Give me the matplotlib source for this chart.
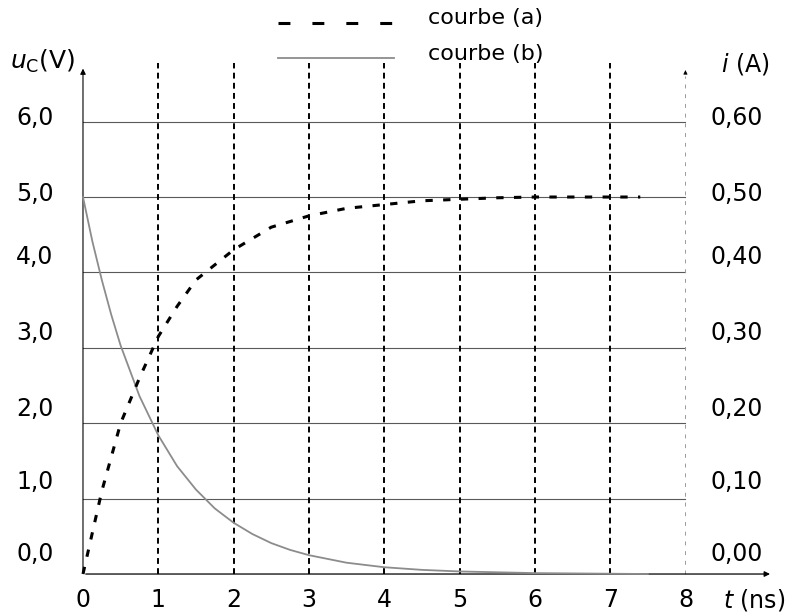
import matplotlib
matplotlib.use("Agg")
import matplotlib.pyplot as plt

plt.rcParams['font.family'] = ['DejaVu Sans']
plt.rcParams['mathtext.fontset'] = 'dejavusans'

# data
t_a = [0, 0.25, 0.5, 0.75, 1.0, 1.25, 1.5, 2.0, 2.5, 3.0, 3.5, 4.0, 4.5, 5.0, 5.5, 6.0, 7.4]
u_a = [0.0, 1.1, 2.0, 2.6, 3.15, 3.55, 3.9, 4.3, 4.6, 4.75, 4.85, 4.9, 4.95, 4.97, 4.99, 5.0, 5.0]
t_b = [0, 0.125, 0.25, 0.375, 0.5, 0.75, 1.0, 1.25, 1.5, 1.75, 2.0, 2.25, 2.5, 2.75, 3.0, 3.5, 4.0, 4.5, 5.0, 6.0, 7.5]
u_b = [5.0, 4.41, 3.9, 3.44, 3.03, 2.36, 1.84, 1.43, 1.12, 0.87, 0.68, 0.53, 0.41, 0.32, 0.25, 0.15, 0.09, 0.055, 0.034, 0.012, 0.0]
x_ticks = [0, 1, 2, 3, 4, 5, 6, 7, 8]
x_tick_labels = ["0", "1", "2", "3", "4", "5", "6", "7", "8"]
y_ticks = [0, 1, 2, 3, 4, 5, 6]
y_left_labels = ["0,0", "1,0", "2,0", "3,0", "4,0", "5,0", "6,0"]
y_right_labels = ["0,00", "0,10", "0,20", "0,30", "0,40", "0,50", "0,60"]
label_dy = [0.27, 0.22, 0.19, 0.2, 0.2, 0.04, 0.05]

fig = plt.figure(figsize=(7.92, 6.13), dpi=100)
ax = fig.add_axes([0, 0, 1, 1])
ax.set_xlim(-1.102, 9.415)
ax.set_ylim(-0.517, 7.613)
ax.axis('off')

fs = 17
# horizontal grid
for y in y_ticks[1:]:
    ax.plot([0, 8], [y, y], color='0.35', lw=0.8, zorder=1)
# vertical dashed grid
for x in x_ticks[1:8]:
    ax.plot([x, x], [0, 6.78], color='black', lw=1.4, ls=(0, (3, 2.2)), zorder=2)
# right faint axis
ax.plot([8, 8], [0, 6.6], color='0.6', lw=0.7, ls=(0, (4, 6)), zorder=1)
ax.annotate('', xy=(8, 6.72), xytext=(8, 6.6),
            arrowprops=dict(arrowstyle='-|>', color='black', lw=0.5, mutation_scale=6))
# left axis
ax.annotate('', xy=(0, 6.74), xytext=(0, 0),
            arrowprops=dict(arrowstyle='-|>', color='black', lw=0.8, mutation_scale=8), zorder=3)
# bottom axis
ax.annotate('', xy=(9.16, 0), xytext=(0, 0),
            arrowprops=dict(arrowstyle='-|>', color='black', lw=0.9, mutation_scale=8), zorder=3)

# curves
ax.plot(t_b, u_b, color='0.55', lw=1.3, zorder=4)
ax.plot(t_a, u_a, color='black', lw=2.2, ls=(0, (2.4, 3.4)), zorder=5)

# tick labels
for x, lab in zip(x_ticks, x_tick_labels):
    ax.text(x, -0.34, lab, ha='center', va='center', fontsize=fs)
for y, lab, dy in zip(y_ticks, y_left_labels, label_dy):
    ax.text(-0.39, y + dy, lab, ha='right', va='center', fontsize=fs)
for y, lab, dy in zip(y_ticks, y_right_labels, label_dy):
    ax.text(8.68, y + dy, lab, ha='center', va='center', fontsize=fs)

ax.text(-0.97, 6.8, r"$u_{\mathrm{C}}$(V)", ha='left', va='center', fontsize=fs + 1)
ax.text(8.79, 6.77, r"$i$ (A)", ha='center', va='center', fontsize=fs)
ax.text(8.91, -0.34, r"$t$ (ns)", ha='center', va='center', fontsize=fs)

# legend
ax.plot([2.59, 4.1], [7.31, 7.31], color='black', lw=2.2, ls=(0, (3.9, 7.2)))
ax.plot([2.59, 4.13], [6.85, 6.85], color='0.55', lw=1.3)
ax.text(4.58, 7.37, "courbe (a)", ha='left', va='center', fontsize=fs - 1)
ax.text(4.58, 6.9, "courbe (b)", ha='left', va='center', fontsize=fs - 1)

fig.savefig("out.png", dpi=100)
